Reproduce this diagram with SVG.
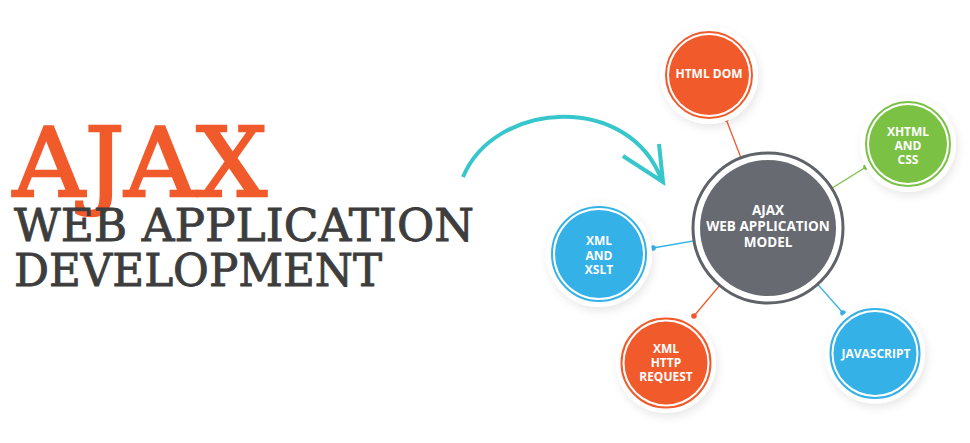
<svg xmlns="http://www.w3.org/2000/svg" width="970" height="443" viewBox="0 0 970 443">
<defs>
<filter id="sh" x="-30%" y="-30%" width="160%" height="160%">
<feDropShadow dx="2" dy="4" stdDeviation="4" flood-color="#000" flood-opacity="0.09"/>
</filter>
</defs>
<style>
.title{font-family:"DejaVu Serif","Liberation Serif",serif}
.lbl{font-family:"Open Sans","Liberation Sans",sans-serif;font-weight:700;fill:#fff;text-anchor:middle;font-size:12px}
.halo{fill:#fff;filter:url(#sh)}
.ring{fill:none}
.or{stroke:#f15a2b}.orf{fill:#f15a2b}
.gr{stroke:#7bc143}.grf{fill:#7bc143}
.bl{stroke:#34b1e7}.blf{fill:#34b1e7}
</style>
<rect width="970" height="443" fill="#fff"/>

<g id="heading">
<text class="title" x="13" y="196" font-size="95" fill="#f15a2b" stroke="#f15a2b" stroke-width="2.5" textLength="254" lengthAdjust="spacingAndGlyphs">AJAX</text>
<text class="title" x="14" y="241" font-size="44" fill="#3d3d3d" stroke="#3d3d3d" stroke-width="0.9" textLength="460" lengthAdjust="spacingAndGlyphs">WEB APPLICATION</text>
<text class="title" x="14" y="286" font-size="44" fill="#3d3d3d" stroke="#3d3d3d" stroke-width="0.9" textLength="368" lengthAdjust="spacingAndGlyphs">DEVELOPMENT</text>
</g>

<g id="arrow" fill="none" stroke="#36c6cb" stroke-width="4" stroke-linecap="butt">
<path d="M463,177 C495,100 630,92 662,181"/>
<path d="M623,156 L663,182 L659,144"/>
</g>

<g id="connectors" stroke-width="1.3">
<line x1="726" y1="119" x2="768" y2="228" stroke="#f15a2b"/>
<circle cx="726" cy="119" r="2.8" fill="#f15a2b"/>
<line x1="866" y1="167" x2="768" y2="228" stroke="#7bc143"/>
<circle cx="866" cy="167" r="2.8" fill="#7bc143"/>
<line x1="653" y1="248" x2="768" y2="228" stroke="#34b1e7"/>
<circle cx="653" cy="248" r="2.8" fill="#34b1e7"/>
<line x1="694" y1="316" x2="768" y2="228" stroke="#f15a2b"/>
<circle cx="694" cy="316" r="2.8" fill="#f15a2b"/>
<line x1="843" y1="313" x2="768" y2="228" stroke="#34b1e7"/>
<circle cx="843" cy="313" r="2.8" fill="#34b1e7"/>
</g>

<g id="center">
<circle class="halo" cx="768" cy="228" r="82" fill-opacity="0"/>
<circle cx="768" cy="228" r="75" fill="#fff" stroke="#5f6268" stroke-width="3"/>
<circle cx="768" cy="228" r="68" fill="#686a71"/>
<text class="lbl" x="768" y="215" style="font-size:13.5px">AJAX</text>
<text class="lbl" x="768" y="231" style="font-size:13.5px">WEB APPLICATION</text>
<text class="lbl" x="768" y="247" style="font-size:13.5px">MODEL</text>
</g>

<g id="html-dom">
<circle class="halo" cx="709" cy="75" r="49"/>
<circle class="ring or" cx="709" cy="75" r="43" stroke-width="2"/>
<circle class="orf" cx="709" cy="75" r="40"/>
<text class="lbl" x="709" y="77.5">HTML DOM</text>
</g>

<g id="xhtml-css">
<circle class="halo" cx="908" cy="144" r="48"/>
<circle class="ring gr" cx="908" cy="144" r="42" stroke-width="2"/>
<circle class="grf" cx="908" cy="144" r="39"/>
<text class="lbl" x="908" y="136">XHTML</text>
<text class="lbl" x="908" y="150">AND</text>
<text class="lbl" x="908" y="164">CSS</text>
</g>

<g id="xml-xslt">
<circle class="halo" cx="599" cy="254" r="53"/>
<circle class="ring bl" cx="599" cy="254" r="47" stroke-width="2"/>
<circle class="blf" cx="599" cy="254" r="44"/>
<text class="lbl" x="599" y="245">XML</text>
<text class="lbl" x="599" y="259.5">AND</text>
<text class="lbl" x="599" y="273.5">XSLT</text>
</g>

<g id="xml-http-request">
<circle class="halo" cx="666" cy="363" r="50"/>
<circle class="ring or" cx="666" cy="363" r="44.5" stroke-width="2"/>
<circle class="orf" cx="666" cy="363" r="41.5"/>
<text class="lbl" x="666" y="353">XML</text>
<text class="lbl" x="666" y="367">HTTP</text>
<text class="lbl" x="666" y="381">REQUEST</text>
</g>

<g id="javascript">
<circle class="halo" cx="875" cy="353.5" r="50"/>
<circle class="ring bl" cx="875" cy="353.5" r="44.5" stroke-width="2"/>
<circle class="blf" cx="875" cy="353.5" r="41.5"/>
<text class="lbl" x="876" y="358">JAVASCRIPT</text>
</g>
</svg>
